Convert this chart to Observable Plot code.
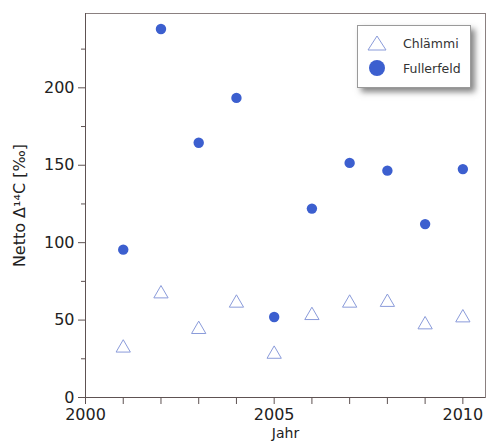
<!DOCTYPE html>
<html>
<head>
<meta charset="utf-8">
<script src="https://cdn.jsdelivr.net/npm/d3@7"></script>
<script src="https://cdn.jsdelivr.net/npm/@observablehq/plot@0.6"></script>
<style>
  body { margin: 0; background: #fff; }
  #wrap { position: relative; width: 488px; height: 441px; overflow: hidden; font-family: "DejaVu Sans", Verdana, sans-serif; }
  #legend { position: absolute; left: 357px; top: 25px; width: 112px; height: 61px; background: #fff;
    border: 1px solid #9a9a9a; box-shadow: 4px 4px 6px rgba(80,80,80,0.7); font-size: 12.5px; color: #333; }
  .row { position: absolute; left: 0; display: flex; align-items: center; }
  .row svg { margin-left: 8px; margin-right: 15px; }
</style>
</head>
<body>
<div id="wrap">
  <div id="legend">
    <div class="row" style="top:8px"><svg width="22" height="18"><path d="M11,2 L20,16 L2,16 Z" fill="none" stroke="#8a9bda" stroke-width="1"/></svg><span>Chlämmi</span></div>
    <div class="row" style="top:33px"><svg width="22" height="18"><circle cx="11" cy="9" r="8" fill="#3c5fcf"/></svg><span>Fullerfeld</span></div>
  </div>
</div>
<script>
const years = [2001, 2002, 2003, 2004, 2005, 2006, 2007, 2008, 2009, 2010];
const chlaemmi = [32, 67, 44, 61, 28, 53, 61, 61.5, 47, 51.5];
const fullerfeld = [95.5, 238, 164.5, 193.5, 52, 122, 151.5, 146.5, 112, 147.5];
const xMajorTicks = [2000, 2005, 2010];
const xMinorTicks = [2001, 2002, 2003, 2004, 2006, 2007, 2008, 2009];
const yMajorTicks = [0, 50, 100, 150, 200];
const yMinorTicks = [25, 75, 125, 175, 225];
const seriesNames = ["Chlämmi", "Fullerfeld"];

const dataC = years.map((y, i) => ({year: y, value: chlaemmi[i], series: seriesNames[0]}));
const dataF = years.map((y, i) => ({year: y, value: fullerfeld[i], series: seriesNames[1]}));

const axisColor = "#5e5252";

const chart = Plot.plot({
  width: 488,
  height: 441,
  marginLeft: 85,
  marginRight: 3,
  marginTop: 13,
  marginBottom: 44,
  style: {fontFamily: "DejaVu Sans, Verdana, sans-serif", fontSize: "16px", color: "#222", background: "white"},
  x: {domain: [2000, 2010.6]},
  y: {domain: [0, 248]},
  marks: [
    Plot.frame({stroke: "#8a8080"}),
    Plot.ruleX([2000], {stroke: axisColor}),
    Plot.ruleY([0], {stroke: axisColor}),
    Plot.axisX({ticks: xMajorTicks, tickSize: 7, tickPadding: 4, tickFormat: d => String(d), label: null, stroke: axisColor, fill: "#222", style: {letterSpacing: "1px"}}),
    Plot.axisX({ticks: xMinorTicks, tickSize: 7, tickFormat: () => "", label: null, stroke: axisColor}),
    Plot.axisY({ticks: yMajorTicks, tickSize: 7, tickPadding: 4, tickFormat: d => String(d), stroke: axisColor, fill: "#222",
      label: "Netto Δ¹⁴C [‰]", labelAnchor: "center", labelOffset: 72, labelArrow: "none", style: {letterSpacing: "1px"}}),
    Plot.axisY({ticks: yMinorTicks, tickSize: 4, tickFormat: () => "", label: null, stroke: axisColor}),
    Plot.text(["Jahr"], {frameAnchor: "bottom", dy: 40, lineAnchor: "bottom", fontSize: 14, fill: "#222"}),
    Plot.dot(dataC, {x: "year", y: "value", symbol: "triangle", r: 5.3, stroke: "#8a9bda", strokeWidth: 1, fill: "none"}),
    Plot.dot(dataF, {x: "year", y: "value", symbol: "circle", r: 5.2, fill: "#3c5fcf", stroke: "none"})
  ]
});
document.getElementById("wrap").insertBefore(chart, document.getElementById("legend"));
</script>
</body>
</html>
